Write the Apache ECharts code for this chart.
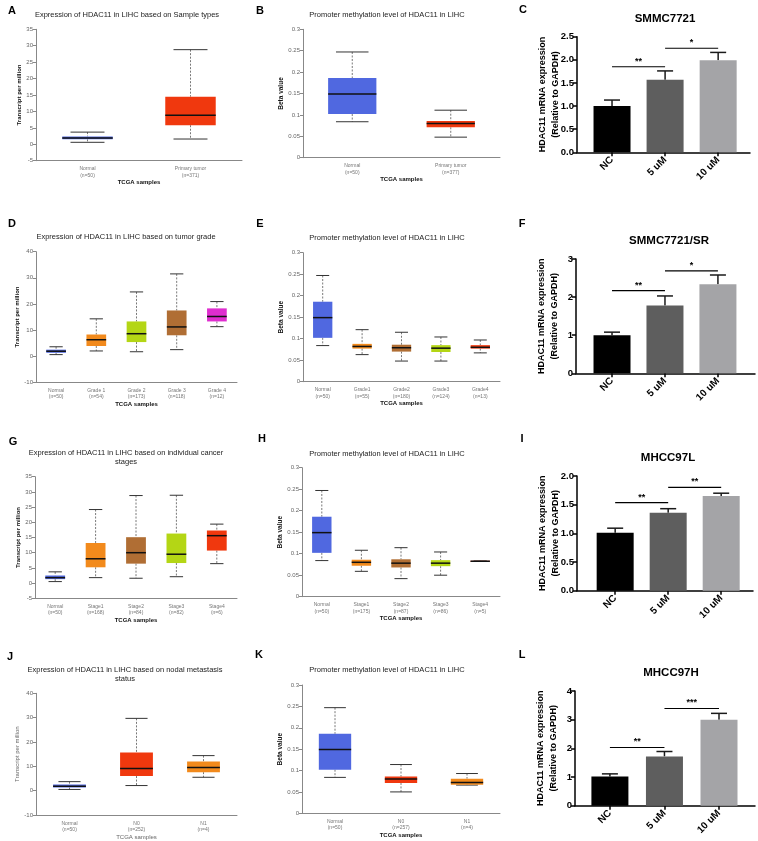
<!DOCTYPE html>
<html><head><meta charset="utf-8">
<script src="https://cdn.jsdelivr.net/npm/echarts@6/dist/echarts.min.js"></script>
<style>html,body{margin:0;padding:0;background:#fff}#c{width:758px;height:841px}</style>
</head><body><div id="c"></div>
<script>
// ---------------- DATA ----------------
// Box panels: [min, Q1, median, Q3, max]
const catsA = ['Normal\n(n=50)', 'Primary tumor\n(n=371)'];
const boxA = [[0.6, 1.5, 1.9, 2.4, 3.7], [1.6, 5.8, 8.8, 14.5, 28.8]];

const catsB = ['Normal\n(n=50)', 'Primary tumor\n(n=377)'];
const boxB = [[0.084, 0.102, 0.149, 0.186, 0.247], [0.048, 0.071, 0.080, 0.086, 0.111]];

const catsD = ['Normal\n(n=50)', 'Grade 1\n(n=54)', 'Grade 2\n(n=173)', 'Grade 3\n(n=118)', 'Grade 4\n(n=12)'];
const boxD = [[0.6, 1.3, 1.9, 2.5, 3.6], [2.0, 3.9, 6.3, 8.3, 14.3], [1.7, 5.4, 8.6, 13.3, 24.6], [2.5, 8.0, 11.2, 17.5, 31.5], [11.3, 13.3, 15.2, 18.3, 20.9]];

const catsE = ['Normal\n(n=50)', 'Grade1\n(n=55)', 'Grade2\n(n=180)', 'Grade3\n(n=124)', 'Grade4\n(n=13)'];
const boxE = [[0.084, 0.102, 0.149, 0.186, 0.247], [0.063, 0.077, 0.082, 0.088, 0.121], [0.048, 0.070, 0.079, 0.086, 0.115], [0.048, 0.069, 0.078, 0.085, 0.104], [0.067, 0.077, 0.080, 0.085, 0.097]];

const catsG = ['Normal\n(n=50)', 'Stage1\n(n=168)', 'Stage2\n(n=84)', 'Stage3\n(n=82)', 'Stage4\n(n=6)'];
const boxG = [[0.5, 1.3, 1.8, 2.5, 3.7], [1.8, 5.2, 8.0, 13.2, 24.2], [1.6, 6.4, 10.0, 15.1, 28.8], [2.1, 6.6, 9.5, 16.3, 28.9], [6.4, 10.7, 15.6, 17.3, 19.4]];

const catsH = ['Normal\n(n=50)', 'Stage1\n(n=175)', 'Stage2\n(n=87)', 'Stage3\n(n=86)', 'Stage4\n(n=5)'];
const boxH = [[0.084, 0.102, 0.149, 0.186, 0.247], [0.059, 0.072, 0.080, 0.086, 0.108], [0.042, 0.068, 0.078, 0.087, 0.114], [0.050, 0.071, 0.078, 0.085, 0.104], [0.082, 0.0815, 0.0825, 0.0835, 0.083]];

const catsJ = ['Normal\n(n=50)', 'N0\n(n=252)', 'N1\n(n=4)'];
const boxJ = [[0.5, 1.3, 1.8, 2.5, 3.7], [2.1, 6.0, 9.1, 15.7, 29.7], [5.5, 7.6, 9.5, 12.0, 14.4]];

const catsK = ['Normal\n(n=50)', 'N0\n(n=257)', 'N1\n(n=4)'];
const boxK = [[0.084, 0.102, 0.149, 0.186, 0.247], [0.050, 0.071, 0.080, 0.086, 0.114], [0.066, 0.067, 0.072, 0.081, 0.093]];

// Bar panels
const barCats = ['NC', '5 uM', '10 uM'];
const meanC = [1.0, 1.57, 1.99];
const errC = [0.13, 0.19, 0.17];
const sigC = [[0, 1, 1.85], [1, 2, 2.25]];
const sigTextC = ['**', '*'];

const meanF = [1.0, 1.78, 2.34];
const errF = [0.08, 0.25, 0.24];
const sigF = [[0, 1, 2.17], [1, 2, 2.69]];
const sigTextF = ['**', '*'];

const meanI = [1.01, 1.36, 1.65];
const errI = [0.08, 0.07, 0.05];
const sigI = [[0, 1, 1.535], [1, 2, 1.80]];
const sigTextI = ['**', '**'];

const meanL = [1.02, 1.72, 3.0];
const errL = [0.09, 0.17, 0.22];
const sigL = [[0, 1, 2.03], [1, 2, 3.39]];
const sigTextL = ['**', '***'];

// ---------------- STYLE ----------------
const FONT = "'Liberation Sans', Arial, Helvetica, sans-serif";
const C_BLUE = '#5068E0', C_RED = '#F0380E', C_ORANGE = '#F28A1C', C_BROWN = '#B06E34', C_GREEN = '#B4D615', C_MAG = '#DF2DCF';
const BAR_COLORS = ['#000000', '#5E5E5E', '#A4A4A7'];

const grids = [], xAxes = [], yAxes = [], series = [], graphics = [];

function boxRender(params, api) {
  const x = api.value(0);
  const lo = api.coord([x, api.value(1)]);
  const q1 = api.coord([x, api.value(2)]);
  const md = api.coord([x, api.value(3)]);
  const q3 = api.coord([x, api.value(4)]);
  const hi = api.coord([x, api.value(5)]);
  const band = api.size([1, 0])[0];
  const bw = band * 0.49, cw = band * 0.33;
  const cx = lo[0];
  const color = api.visual('color');
  const dash = { stroke: '#555', lineWidth: 0.8, lineDash: [2, 1.5] };
  const cap = { stroke: '#333', lineWidth: 1 };
  return { type: 'group', children: [
    { type: 'line', shape: { x1: cx, y1: hi[1], x2: cx, y2: q3[1] }, style: dash },
    { type: 'line', shape: { x1: cx, y1: q1[1], x2: cx, y2: lo[1] }, style: dash },
    { type: 'line', shape: { x1: cx - cw / 2, y1: hi[1], x2: cx + cw / 2, y2: hi[1] }, style: cap },
    { type: 'line', shape: { x1: cx - cw / 2, y1: lo[1], x2: cx + cw / 2, y2: lo[1] }, style: cap },
    { type: 'rect', shape: { x: cx - bw / 2, y: q3[1], width: bw, height: Math.max(1, q1[1] - q3[1]) }, style: { fill: color } },
    { type: 'line', shape: { x1: cx - bw / 2, y1: md[1], x2: cx + bw / 2, y2: md[1] }, style: { stroke: '#111', lineWidth: 1.5 } }
  ] };
}

function addBoxPanel(cfg) {
  const gi = grids.length;
  grids.push({ left: cfg.rect[0], top: cfg.rect[1], width: cfg.rect[2], height: cfg.rect[3] });
  const light = !!cfg.light;
  xAxes.push({
    gridIndex: gi, type: 'category', data: cfg.cats, boundaryGap: true,
    axisLine: { onZero: false, lineStyle: { color: '#888', width: 1 } },
    axisTick: { show: false },
    axisLabel: { interval: 0, fontSize: 5, color: '#777', lineHeight: 6.5, margin: 5, fontFamily: FONT },
    name: 'TCGA samples', nameLocation: 'middle', nameGap: cfg.xGap || 17,
    nameTextStyle: { fontSize: 6, fontWeight: light ? 'normal' : 'bold', color: light ? '#666' : '#111', fontFamily: FONT }
  });
  yAxes.push({
    gridIndex: gi, type: 'value', min: cfg.yMin, max: cfg.yMax, interval: cfg.yInt,
    splitLine: { show: false },
    axisLine: { show: true, onZero: false, lineStyle: { color: '#888', width: 1 } },
    axisTick: { show: true, length: 3, lineStyle: { color: '#888' } },
    axisLabel: { fontSize: 6, color: '#666', margin: 3, fontFamily: FONT },
    name: cfg.yName, nameLocation: 'middle', nameGap: cfg.yGap,
    nameTextStyle: { fontSize: cfg.yNameSize || 6, fontWeight: light ? 'normal' : 'bold', color: light ? '#666' : '#111', fontFamily: FONT }
  });
  series.push({
    type: 'custom', xAxisIndex: gi, yAxisIndex: gi, renderItem: boxRender, silent: true,
    encode: { x: 0, y: [1, 2, 3, 4, 5] },
    data: cfg.boxes.map((b, i) => ({ value: [i].concat(b), itemStyle: { color: cfg.colors[i] } }))
  });
}

function addBarPanel(cfg) {
  const gi = grids.length;
  grids.push({ left: cfg.rect[0], top: cfg.rect[1], width: cfg.rect[2], height: cfg.rect[3] });
  xAxes.push({
    gridIndex: gi, type: 'value', min: cfg.xMin, max: cfg.xMax, splitLine: { show: false },
    axisLine: { onZero: false, lineStyle: { color: '#000', width: 1.5 } },
    axisTick: { show: true, customValues: [0, 1, 2], length: 4, lineStyle: { color: '#000', width: 1.5 } },
    axisLabel: { customValues: [0, 1, 2], formatter: v => barCats[Math.round(v)], rotate: 45, fontSize: 10, fontWeight: 'bold', color: '#000', margin: 6, fontFamily: FONT }
  });
  yAxes.push({
    gridIndex: gi, type: 'value', min: 0, max: cfg.yMax, interval: cfg.yInt, splitLine: { show: false },
    axisLine: { show: true, onZero: false, lineStyle: { color: '#000', width: 1.5 } },
    axisTick: { show: true, length: 4, lineStyle: { color: '#000', width: 1.5 } },
    axisLabel: { formatter: v => v.toFixed(cfg.dec), fontSize: 9.5, fontWeight: 'bold', color: '#000', margin: 3, fontFamily: FONT },
    name: 'HDAC11 mRNA expression\n(Relative to GAPDH)', nameLocation: 'middle', nameGap: cfg.yGap,
    nameMoveOverlap: false,
    nameTextStyle: { fontSize: 9, fontWeight: 'bold', color: '#000', lineHeight: 13, fontFamily: FONT }
  });
  series.push({
    type: 'bar', xAxisIndex: gi, yAxisIndex: gi, barWidth: 37, silent: true,
    data: cfg.means.map((v, i) => ({ value: [i, v], itemStyle: { color: BAR_COLORS[i] } }))
  });
  series.push({
    type: 'custom', xAxisIndex: gi, yAxisIndex: gi, silent: true, encode: { x: 0, y: [1, 2] },
    data: cfg.means.map((v, i) => [i, v, v + cfg.errs[i]]),
    renderItem: (p, api) => {
      const b = api.coord([api.value(0), api.value(1)]);
      const t = api.coord([api.value(0), api.value(2)]);
      const st = { stroke: '#1a1a1a', lineWidth: 1.5 };
      return { type: 'group', children: [
        { type: 'line', shape: { x1: b[0], y1: b[1], x2: t[0], y2: t[1] }, style: st },
        { type: 'line', shape: { x1: t[0] - 8, y1: t[1], x2: t[0] + 8, y2: t[1] }, style: st }
      ] };
    }
  });
  series.push({
    type: 'custom', xAxisIndex: gi, yAxisIndex: gi, silent: true, encode: { x: [0, 1], y: 2 },
    data: cfg.sig.map(s => s.slice()),
    renderItem: (p, api) => {
      const a = api.coord([api.value(0), api.value(2)]);
      const b = api.coord([api.value(1), api.value(2)]);
      return { type: 'group', children: [
        { type: 'line', shape: { x1: a[0], y1: a[1], x2: b[0], y2: b[1] }, style: { stroke: '#000', lineWidth: 1.2 } },
        { type: 'text', x: (a[0] + b[0]) / 2, y: a[1] - 1, style: { text: cfg.sigText[p.dataIndex], fill: '#000', font: 'bold 9px ' + FONT, align: 'center', verticalAlign: 'bottom', textAlign: 'center', textVerticalAlign: 'bottom' } }
      ] };
    }
  });
}

function txt(x, y, text, font, color, lh) {
  graphics.push({ type: 'text', x: x, y: y, silent: true,
    style: { text: text, font: font, fill: color || '#000', lineHeight: lh, align: 'center', verticalAlign: 'middle', textAlign: 'center', textVerticalAlign: 'middle' } });
}

// ---------------- PANELS ----------------
const TPM = 'Transcript per million', BETA = 'Beta value';
addBoxPanel({ rect: [36, 29.3, 206, 131.4], cats: catsA, boxes: boxA, colors: [C_BLUE, C_RED], yMin: -5, yMax: 35, yInt: 5, yName: TPM, yGap: 13 });
addBoxPanel({ rect: [303, 29.3, 197, 128.4], cats: catsB, boxes: boxB, colors: [C_BLUE, C_RED], yMin: 0, yMax: 0.3, yInt: 0.05, yName: BETA, yGap: 18, yNameSize: 6.5 });
addBarPanel({ rect: [577, 36.7, 173, 115.6], xMin: -0.66, xMax: 2.6, yMax: 2.5, yInt: 0.5, dec: 1, yGap: 15, means: meanC, errs: errC, sig: sigC, sigText: sigTextC });

addBoxPanel({ rect: [36, 251.7, 201, 130.6], cats: catsD, boxes: boxD, colors: [C_BLUE, C_ORANGE, C_GREEN, C_BROWN, C_MAG], yMin: -10, yMax: 40, yInt: 10, yName: TPM, yGap: 13 });
addBoxPanel({ rect: [303, 252.7, 197, 129], cats: catsE, boxes: boxE, colors: [C_BLUE, C_ORANGE, C_BROWN, C_GREEN, C_RED], yMin: 0, yMax: 0.3, yInt: 0.05, yName: BETA, yGap: 18, yNameSize: 6.5 });
addBarPanel({ rect: [576, 259, 179, 114.3], xMin: -0.68, xMax: 2.7, yMax: 3, yInt: 1, dec: 0, yGap: 15, means: meanF, errs: errF, sig: sigF, sigText: sigTextF });

addBoxPanel({ rect: [35, 476.7, 202, 121.6], cats: catsG, boxes: boxG, colors: [C_BLUE, C_ORANGE, C_BROWN, C_GREEN, C_RED], yMin: -5, yMax: 35, yInt: 5, yName: TPM, yGap: 13 });
addBoxPanel({ rect: [302, 467.7, 198, 129], cats: catsH, boxes: boxH, colors: [C_BLUE, C_ORANGE, C_BROWN, C_GREEN, C_RED], yMin: 0, yMax: 0.3, yInt: 0.05, yName: BETA, yGap: 18, yNameSize: 6.5 });
addBarPanel({ rect: [577, 476, 176, 114.7], xMin: -0.72, xMax: 2.6, yMax: 2, yInt: 0.5, dec: 1, yGap: 15, means: meanI, errs: errI, sig: sigI, sigText: sigTextI });

addBoxPanel({ rect: [36, 693.3, 201, 121.7], cats: catsJ, boxes: boxJ, colors: [C_BLUE, C_RED, C_ORANGE], yMin: -10, yMax: 40, yInt: 10, yName: TPM, yGap: 13, light: true });
addBoxPanel({ rect: [302, 685, 198, 128.3], cats: catsK, boxes: boxK, colors: [C_BLUE, C_RED, C_ORANGE], yMin: 0, yMax: 0.3, yInt: 0.05, yName: BETA, yGap: 18, yNameSize: 6.5 });
addBarPanel({ rect: [575, 691, 180, 114.7], xMin: -0.64, xMax: 2.66, yMax: 4, yInt: 1, dec: 0, yGap: 15, means: meanL, errs: errL, sig: sigL, sigText: sigTextL });

// ---------------- TEXT ----------------
const LET = 'bold 11px ' + FONT;
[['A', 12, 11], ['B', 260, 11], ['C', 523, 10], ['D', 12, 224], ['E', 260, 224], ['F', 522, 224],
 ['G', 13, 442], ['H', 262, 439], ['I', 522, 439], ['J', 10, 657], ['K', 259, 655], ['L', 522, 655]]
  .forEach(l => txt(l[1], l[2], l[0], LET, '#000'));

const TF = '7.5px ' + FONT;
txt(127, 15, 'Expression of HDAC11 in LIHC based on Sample types', TF, '#222');
txt(387, 15, 'Promoter methylation level of HDAC11 in LIHC', TF, '#222');
txt(126, 237, 'Expression of HDAC11 in LIHC based on tumor grade', TF, '#222');
txt(387, 238, 'Promoter methylation level of HDAC11 in LIHC', TF, '#222');
txt(126, 457.5, 'Expression of HDAC11 in LIHC based on individual cancer\nstages', TF, '#222', 9);
txt(387, 454, 'Promoter methylation level of HDAC11 in LIHC', TF, '#222');
txt(125, 674.5, 'Expression of HDAC11 in LIHC based on nodal metastasis\nstatus', TF, '#222', 9);
txt(387, 670, 'Promoter methylation level of HDAC11 in LIHC', TF, '#222');

const BT = 'bold 11.5px ' + FONT;
txt(665, 19, 'SMMC7721', BT, '#000');
txt(669, 241, 'SMMC7721/SR', BT, '#000');
txt(668, 458, 'MHCC97L', BT, '#000');
txt(671, 673, 'MHCC97H', BT, '#000');

const chart = echarts.init(document.getElementById('c'), null, { renderer: 'canvas' });
chart.setOption({
  animation: false, backgroundColor: '#fff',
  grid: grids, xAxis: xAxes, yAxis: yAxes, series: series, graphic: graphics
});
</script></body></html>
